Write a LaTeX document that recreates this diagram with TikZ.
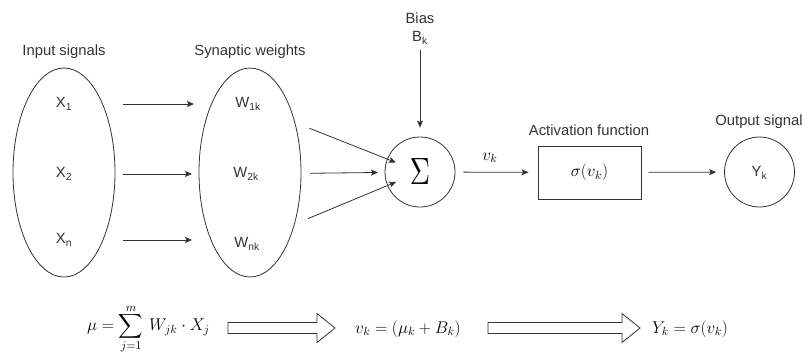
\RequirePackage{fix-cm}
\documentclass[tikz,border=0pt]{standalone}
\usepackage{fontspec}
\setmainfont{Liberation Sans}
\usepackage{graphicx}
\usetikzlibrary{arrows.meta,shapes.geometric}
\definecolor{ink}{HTML}{333333}
\begin{document}
\begin{tikzpicture}[x=1pt,y=-1pt,
  lbl/.style={inner sep=0pt,text=ink,font=\fontsize{14.8}{17}\selectfont},
  inner/.style={inner sep=0pt,text=ink,font=\fontsize{14.8}{17}\selectfont},
  oval/.style={ellipse,draw=ink,line width=0.8pt,minimum width=102pt,minimum height=209pt,inner sep=0pt},
  ring/.style={circle,draw=ink,line width=0.8pt,minimum size=70pt,inner sep=0pt},
  arr/.style={draw=ink,line width=0.8pt,-{Stealth[length=7pt,width=6pt,inset=1.5pt]}},
  hollow/.style={draw=ink,line width=0.8pt,line join=miter},
  fml/.style={inner sep=0pt,text=black,font=\fontsize{17}{20}\selectfont}]
\useasboundingbox (0,0) rectangle (803,357);
% ellipses
\node[oval] (inp) at (64,172.5) {};
\node[oval] (syn) at (250,172.5) {};
\node[lbl] (inplbl) at (64,52) {Input signals};
\node[lbl] (synlbl) at (250,52) {Synaptic weights};
\node[inner] (x1) at (64,104) {X\textsubscript{1}};
\node[inner] (x2) at (64,174) {X\textsubscript{2}};
\node[inner] (xn) at (64,240) {X\textsubscript{n}};
\node[inner] (w1) at (248,104) {W\textsubscript{1k}};
\node[inner] (w2) at (246,174) {W\textsubscript{2k}};
\node[inner] (wn) at (247,244) {W\textsubscript{nk}};
% sum
\node[ring] (sum) at (420,172) {\scalebox{2.8}[3.8]{$\Sigma$}};
\node[lbl] (bias) at (420,18) {Bias};
\node[lbl] (bk) at (420,38) {B\textsubscript{k}};
% activation
\node[draw=ink,line width=0.8pt,minimum width=103pt,minimum height=53pt,inner sep=0pt,
  font=\fontsize{17}{19}\selectfont] (act) at (589.5,172.5) {$\sigma(v_k)$};
\node[lbl] (actlbl) at (589,130) {Activation function};
\node[inner sep=0pt,font=\fontsize{17}{19}\selectfont] (vk) at (490,158) {$v_k$};
% output
\node[ring] (out) at (759.5,172) {};
\node[inner] (yk) at (759.5,173) {Y\textsubscript{k}};
\node[lbl] (outlbl) at (759,122) {Output signal};
% arrows between ellipses
\draw[arr,shorten <=59pt,shorten >=54pt] (x1.center) -- (w1.center |- x1.center);
\draw[arr,shorten <=59pt,shorten >=54pt] (x2.center) -- (w2.center |- x2.center);
\draw[arr,shorten <=59pt,shorten >=55pt] (xn.center) -- (wn.center |- xn.center);
% arrows into sum
\draw[arr,shorten <=66pt,shorten >=26pt] (w1.center) -- (sum.center);
\draw[arr,shorten <=64pt,shorten >=42pt] (w2.center) -- (sum.center);
\draw[arr,shorten <=66pt,shorten >=26pt] (wn.center) -- (sum.center);
\draw[arr,shorten <=5pt,shorten >=9pt] (bk) -- (sum);
\draw[arr,shorten <=8pt,shorten >=9pt] (sum) -- (act);
\draw[arr,shorten <=7pt,shorten >=8pt] (act) -- (out);
% bottom formulas
\node[fml,anchor=west] (f1) at (87,329) {$\displaystyle \mu=\mathop{\vcenter{\hbox{\scalebox{1.7}{$\displaystyle\sum$}}}}\limits_{j=1}^{m}\, W_{jk}\cdot X_j$};
\node[fml,anchor=west] (f2) at (355,329) {$v_k=(\mu_k+B_k)$};
\node[fml,anchor=west] (f3) at (652,329) {$Y_k=\sigma(v_k)$};
% hollow arrows
\coordinate (h1) at (228,328);
\coordinate (h2) at (488,328);
\draw[hollow] (h1) ++(0,-5.5) -- ++(89,0) -- ++(0,-9) -- ++(18,14.5) -- ++(-18,14.5) -- ++(0,-9) -- ++(-89,0) -- cycle;
\draw[hollow] (h2) ++(0,-5.5) -- ++(134,0) -- ++(0,-9) -- ++(18,14.5) -- ++(-18,14.5) -- ++(0,-9) -- ++(-134,0) -- cycle;
\end{tikzpicture}
\end{document}
